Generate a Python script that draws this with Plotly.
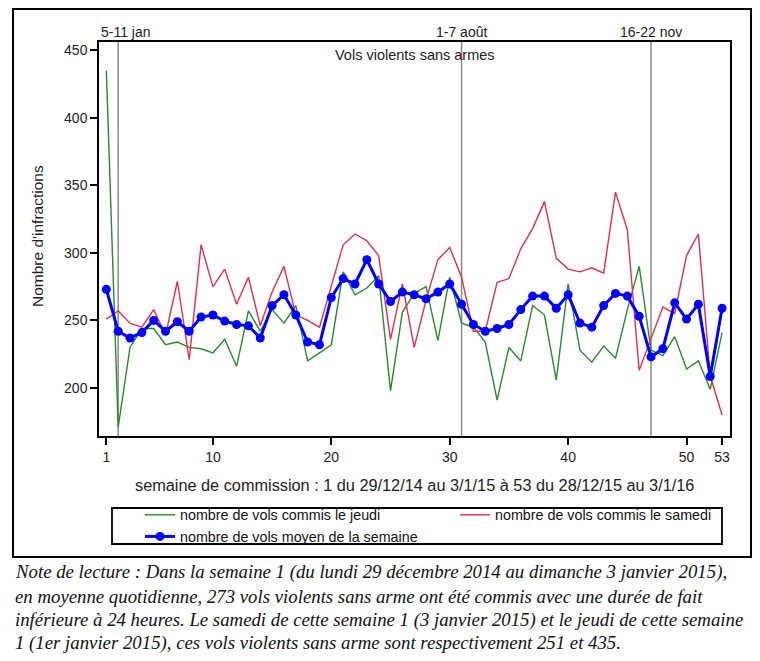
import plotly.graph_objects as go

semaines = list(range(1, 54))

jeudi = [435, 171, 230, 244, 244, 232, 234, 230, 229, 226,
         236, 216, 257, 242, 258, 248, 261, 220, 226, 232,
         286, 269, 274, 283, 198, 256, 270, 275, 235, 282,
         248, 245, 234, 191, 230, 220, 261, 254, 206, 277,
         228, 219, 231, 222, 258, 290, 228, 224, 238, 214,
         220, 199, 241]

samedi = [251, 257, 248, 245, 258, 239, 279, 221, 306, 275,
          288, 262, 282, 246, 271, 290, 254, 250, 245, 275,
          306, 314, 309, 298, 236, 277, 230, 265, 295, 304,
          282, 242, 242, 278, 281, 303, 318, 338, 296, 288,
          286, 289, 285, 345, 317, 213, 237, 260, 255, 298,
          314, 209, 180]

moyenne = [273, 242, 237, 241, 250, 242, 249, 242, 252.5, 254,
           249.5, 247, 246, 237, 261, 269, 254, 234, 232, 267,
           281, 277, 295, 277, 264, 271, 269, 266, 271, 277,
           262, 247, 242, 244, 247, 258, 268, 268, 259, 269,
           248, 245, 261, 270, 268, 253, 223, 229, 263, 251,
           262, 208.5, 259]

x_ticks = [1, 10, 20, 30, 40, 50, 53]
y_ticks = [200, 250, 300, 350, 400, 450]

reperes = [2, 31, 47]
reperes_labels = ["5-11 jan", "1-7 août", "16-22 nov"]

titre = "Vols violents sans armes"
y_titre = "Nombre d'infractions"
x_titre = "semaine de commission : 1 du 29/12/14 au 3/1/15 à 53 du 28/12/15 au 3/1/16"

note_lignes = [
    "Note de lecture : Dans la semaine 1 (du lundi 29 décembre 2014 au dimanche 3 janvier 2015),",
    "en moyenne quotidienne, 273 vols violents sans arme ont été commis avec une durée de fait",
    "inférieure à 24 heures. Le samedi de cette semaine 1 (3 janvier 2015) et le jeudi de cette semaine",
    "1 (1er janvier 2015), ces vols violents sans arme sont respectivement 251 et 435.",
]

# page has an 8px body margin: figure is drawn at (8, 8)
OFF = 8
W, H = 752, 653
ML, MR, MT, MB = 91, 30, 34, 225
PW, PH = W - ML - MR, H - MT - MB


def px_x(px):
    return (px - OFF - ML) / PW


def px_y(py):
    return (H - MB - (py - OFF)) / PH


SANS = "Liberation Sans, Arial, sans-serif"
SERIF = "Liberation Serif, Times New Roman, serif"

fig = go.Figure()
fig.add_trace(go.Scatter(x=semaines, y=jeudi, mode="lines",
                         name="nombre de vols commis le jeudi",
                         line=dict(color="#2a8a2a", width=1.4)))
fig.add_trace(go.Scatter(x=semaines, y=samedi, mode="lines",
                         name="nombre de vols commis le samedi",
                         line=dict(color="#e0304e", width=1.4)))
fig.add_trace(go.Scatter(x=semaines, y=moyenne, mode="lines+markers",
                         name="nombre de vols moyen de la semaine",
                         line=dict(color="#0000ff", width=3),
                         marker=dict(color="#0000ff", size=9)))

shapes = []
for r in reperes:
    shapes.append(dict(type="line", xref="x", yref="paper", x0=r, x1=r, y0=0, y1=1,
                       line=dict(color="#8a8a8a", width=1.5), layer="below"))
# outer frame
shapes.append(dict(type="rect", xref="paper", yref="paper",
                   x0=px_x(13), x1=px_x(751), y0=px_y(557), y1=px_y(9),
                   line=dict(color="black", width=2), fillcolor="rgba(0,0,0,0)"))
# legend frame
shapes.append(dict(type="rect", xref="paper", yref="paper",
                   x0=px_x(112), x1=px_x(722), y0=px_y(544), y1=px_y(508),
                   line=dict(color="black", width=1.8), fillcolor="rgba(0,0,0,0)"))

annotations = []
shifts = [8, 0, 0]
for r, lab, s in zip(reperes, reperes_labels, shifts):
    annotations.append(dict(x=r, y=px_y(31.5), xref="x", yref="paper", text=lab,
                            showarrow=False, xanchor="center", yanchor="middle",
                            xshift=s, font=dict(family=SANS, size=14, color="#222")))
annotations.append(dict(x=0.5, y=px_y(55), xref="paper", yref="paper", text=titre,
                        showarrow=False, xanchor="center", yanchor="middle",
                        font=dict(family=SANS, size=14.5, color="#222")))
annotations.append(dict(x=px_x(37), y=px_y(236), xref="paper", yref="paper", text=y_titre,
                        showarrow=False, xanchor="center", yanchor="middle", textangle=-90,
                        font=dict(family=SANS, size=15.5, color="#222")))
annotations.append(dict(x=px_x(414), y=px_y(485), xref="paper", yref="paper", text=x_titre,
                        showarrow=False, xanchor="center", yanchor="middle",
                        font=dict(family=SANS, size=16.3, color="#222")))
note_y = [572, 596, 620, 643]
for ligne, yy in zip(note_lignes, note_y):
    annotations.append(dict(x=px_x(13), y=px_y(yy), xref="paper", yref="paper",
                            text="<i>" + ligne + "</i>", showarrow=False,
                            xanchor="left", yanchor="middle",
                            font=dict(family=SERIF, size=18.8, color="#111")))

fig.update_layout(
    width=W, height=H,
    margin=dict(l=ML, r=MR, t=MT, b=MB, autoexpand=False),
    paper_bgcolor="white", plot_bgcolor="white",
    showlegend=True,
    legend=dict(orientation="h", x=px_x(140), y=px_y(499), xanchor="left", yanchor="top",
                bgcolor="rgba(0,0,0,0)", borderwidth=0,
                font=dict(family=SANS, size=14.3, color="#111"),
                entrywidth=270, entrywidthmode="pixels",
                tracegroupgap=0),
    shapes=shapes, annotations=annotations,
    xaxis=dict(range=[0.38, 53.67], tickmode="array", tickvals=x_ticks,
               ticks="outside", ticklen=7, tickwidth=1.5, tickcolor="black",
               showline=True, linecolor="black", linewidth=1.5, mirror=True,
               showgrid=False, zeroline=False,
               tickfont=dict(family=SANS, size=14, color="#222")),
    yaxis=dict(range=[164.4, 456.2], tickmode="array", tickvals=y_ticks,
               ticks="outside", ticklen=7, tickwidth=1.5, tickcolor="black",
               showline=True, linecolor="black", linewidth=1.5, mirror=True,
               showgrid=False, zeroline=False,
               tickfont=dict(family=SANS, size=14, color="#222")),
)

fig.write_html("out.html")
